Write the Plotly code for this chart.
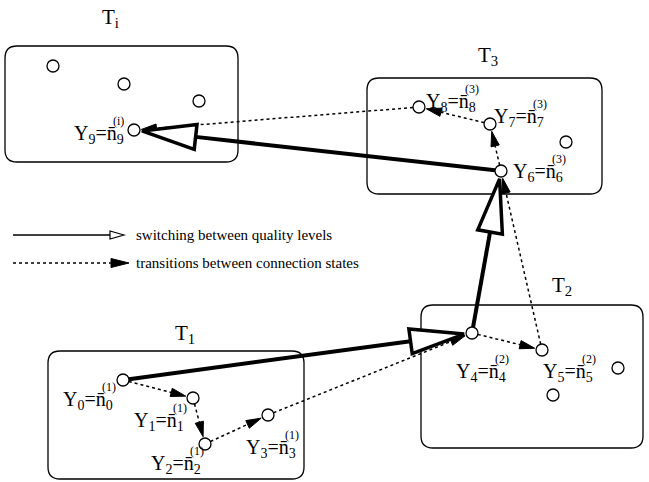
import math
import plotly.graph_objects as go

# ---------------- data ----------------
# Connection-state nodes (labelled) Y0..Y9
node_names = ["0", "1", "2", "3", "4", "5", "6", "7", "8", "9"]
node_levels = ["1", "1", "1", "1", "2", "2", "3", "3", "3", "i"]
node_x = [123, 193, 205, 268, 472, 542, 501, 490, 419, 134]
node_y = [380, 398, 444, 415, 333, 350, 171, 124, 107, 130]
label_x = [61, 132, 149, 244, 454, 541, 511, 492, 424, 72]
label_y = [400, 421, 464, 448, 372, 372, 172, 117, 102, 134]

# Other (unlabelled) states
extra_x = [53, 124, 199, 566, 618, 553]
extra_y = [66, 84, 101, 142, 368, 395]

# Quality-level boxes
box_names = ["T<sub>i</sub>", "T<sub>3</sub>", "T<sub>2</sub>", "T<sub>1</sub>"]
box_x0 = [5, 367, 421, 48]
box_x1 = [238, 602, 643, 304]
box_y0 = [46, 78, 305, 351]
box_y1 = [162, 194, 448, 479]
box_title_x = [110, 488, 562, 185]
box_title_y = [18, 56, 286, 334]

# Transitions
switch_edges = [(0, 4), (4, 6), (6, 9)]          # switching between quality levels
conn_edges = [(0, 1), (1, 2), (2, 3), (3, 4), (4, 5), (5, 6), (6, 7), (7, 8), (8, 9)]

legend_texts = ["switching between quality levels", "transitions between connection states"]

FONT = "Liberation Serif"
R = 6

shapes = []
annotations = []


def rounded_rect(x0, y0, x1, y1, r=12):
    return (f"M {x0+r},{y0} L {x1-r},{y0} Q {x1},{y0} {x1},{y0+r} "
            f"L {x1},{y1-r} Q {x1},{y1} {x1-r},{y1} L {x0+r},{y1} "
            f"Q {x0},{y1} {x0},{y1-r} L {x0},{y0+r} Q {x0},{y0} {x0+r},{y0} Z")


def tri_path(tip, d, L, W):
    bx, by = tip[0] - d[0] * L, tip[1] - d[1] * L
    px, py = -d[1], d[0]
    return (f"M {tip[0]},{tip[1]} L {bx+px*W},{by+py*W} "
            f"L {bx-px*W},{by-py*W} Z"), (bx, by)


# boxes
for name, x0, x1, y0, y1, tx, ty in zip(box_names, box_x0, box_x1, box_y0, box_y1,
                                         box_title_x, box_title_y):
    shapes.append(dict(type="path", path=rounded_rect(x0, y0, x1, y1),
                       line=dict(color="black", width=1.3), fillcolor="rgba(0,0,0,0)"))
    annotations.append(dict(x=tx, y=ty, text=name, showarrow=False,
                            font=dict(family=FONT, size=21, color="black"),
                            xanchor="center", yanchor="middle"))

# dotted connection transitions
for a, b in conn_edges:
    x0, y0, x1, y1 = node_x[a], node_y[a], node_x[b], node_y[b]
    ln = math.hypot(x1 - x0, y1 - y0)
    d = ((x1 - x0) / ln, (y1 - y0) / ln)
    tip = (x1 - d[0] * (R + 1.5), y1 - d[1] * (R + 1.5))
    path, base = tri_path(tip, d, 15, 4.2)
    shapes.append(dict(type="line", x0=x0 + d[0] * R, y0=y0 + d[1] * R, x1=base[0], y1=base[1],
                       line=dict(color="black", width=1.5, dash="dot")))
    shapes.append(dict(type="path", path=path, fillcolor="black",
                       line=dict(color="black", width=1)))

# thick switching arrows
for a, b in switch_edges:
    x0, y0, x1, y1 = node_x[a], node_y[a], node_x[b], node_y[b]
    ln = math.hypot(x1 - x0, y1 - y0)
    d = ((x1 - x0) / ln, (y1 - y0) / ln)
    tip = (x1 - d[0] * (R + 2), y1 - d[1] * (R + 2))
    path, base = tri_path(tip, d, 54, 12.5)
    shapes.append(dict(type="line", x0=x0 + d[0] * R, y0=y0 + d[1] * R, x1=base[0], y1=base[1],
                       line=dict(color="black", width=4)))
    shapes.append(dict(type="path", path=path, fillcolor="white",
                       line=dict(color="black", width=3.5)))

# nodes
for x, y in list(zip(node_x, node_y)) + list(zip(extra_x, extra_y)):
    shapes.append(dict(type="circle", x0=x - R, x1=x + R, y0=y - R, y1=y + R,
                       line=dict(color="black", width=1.3), fillcolor="white"))

# node labels
for n, lev, lx, ly in zip(node_names, node_levels, label_x, label_y):
    annotations.append(dict(x=lx, y=ly, text=f"Y<sub>{n}</sub>=n\u0304<sub>{n}</sub>",
                            showarrow=False, xanchor="left", yanchor="middle",
                            font=dict(family=FONT, size=20, color="black")))
    annotations.append(dict(x=lx + 39, y=ly - 13, text=f"({lev})",
                            showarrow=False, xanchor="left", yanchor="middle",
                            font=dict(family=FONT, size=12, color="black")))

# legend
leg_y = [235, 263]
shapes.append(dict(type="line", x0=13, y0=leg_y[0], x1=110, y1=leg_y[0],
                   line=dict(color="black", width=1.5)))
shapes.append(dict(type="path",
                   path=f"M 124,{leg_y[0]} L 110,{leg_y[0]-4} L 110,{leg_y[0]+4} Z",
                   fillcolor="white", line=dict(color="black", width=1.2)))
shapes.append(dict(type="line", x0=13, y0=leg_y[1], x1=112, y1=leg_y[1],
                   line=dict(color="black", width=1.5, dash="dot")))
shapes.append(dict(type="path",
                   path=f"M 129,{leg_y[1]} L 111,{leg_y[1]-4.5} L 111,{leg_y[1]+4.5} Z",
                   fillcolor="black", line=dict(color="black", width=1)))
for t, y in zip(legend_texts, leg_y):
    annotations.append(dict(x=134, y=y, text=t, showarrow=False, xanchor="left",
                            yanchor="middle", font=dict(family=FONT, size=15, color="black")))

fig = go.Figure()
fig.update_layout(
    width=649, height=482, margin=dict(l=0, r=0, t=0, b=0),
    plot_bgcolor="white", paper_bgcolor="white",
    xaxis=dict(range=[0, 649], visible=False, fixedrange=True),
    yaxis=dict(range=[482, 0], visible=False, fixedrange=True),
    shapes=shapes, annotations=annotations, showlegend=False,
)
fig.write_html("out.html", config={"displayModeBar": False},
               post_script="document.body.style.margin='0';document.body.style.overflow='hidden';")
